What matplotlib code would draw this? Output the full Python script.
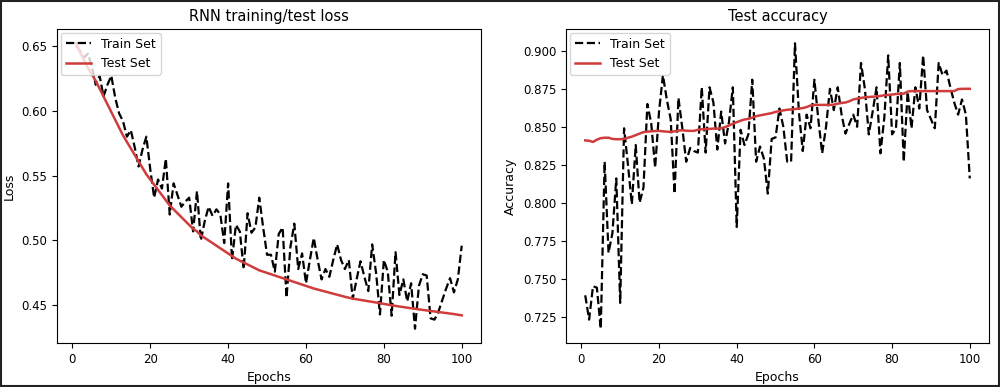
import matplotlib
matplotlib.use("Agg")
import matplotlib.pyplot as plt
from matplotlib.patches import Rectangle

epochs = list(range(1, 101))

train_loss = [
    0.650, 0.646, 0.641, 0.644, 0.634, 0.620, 0.627, 0.611, 0.620, 0.627,
    0.610, 0.598, 0.592, 0.580, 0.585, 0.572, 0.557, 0.570, 0.580, 0.555,
    0.533, 0.547, 0.540, 0.563, 0.520, 0.544, 0.535, 0.526, 0.530, 0.533,
    0.507, 0.538, 0.500, 0.515, 0.526, 0.519, 0.524, 0.520, 0.498, 0.544,
    0.485, 0.512, 0.507, 0.478, 0.521, 0.506, 0.510, 0.533, 0.510, 0.489,
    0.489, 0.476, 0.505, 0.510, 0.456, 0.495, 0.513, 0.478, 0.490, 0.467,
    0.485, 0.502, 0.485, 0.470, 0.478, 0.472, 0.485, 0.497, 0.485, 0.478,
    0.485, 0.455, 0.470, 0.484, 0.472, 0.461, 0.497, 0.475, 0.443, 0.485,
    0.476, 0.442, 0.491, 0.458, 0.470, 0.453, 0.467, 0.432, 0.465, 0.474,
    0.473, 0.440, 0.439, 0.445, 0.454, 0.463, 0.471, 0.460, 0.470, 0.496,
]

test_loss = [
    0.652, 0.645, 0.639, 0.633, 0.628, 0.623, 0.617, 0.611, 0.605, 0.599,
    0.593, 0.587, 0.581, 0.576, 0.571, 0.566, 0.561, 0.556, 0.551, 0.547,
    0.543, 0.539, 0.535, 0.531, 0.527, 0.524, 0.521, 0.518, 0.515, 0.512,
    0.509, 0.507, 0.504, 0.502, 0.500, 0.498, 0.496, 0.494, 0.492, 0.490,
    0.488, 0.486, 0.4845, 0.483, 0.4815, 0.480, 0.4785, 0.477, 0.476, 0.475,
    0.474, 0.473, 0.472, 0.471, 0.470, 0.469, 0.468, 0.467, 0.466, 0.465,
    0.464, 0.463, 0.4622, 0.4614, 0.4606, 0.4598, 0.459, 0.4582, 0.4574, 0.4566,
    0.4559, 0.4552, 0.4547, 0.4542, 0.4537, 0.4532, 0.4527, 0.4522, 0.4517, 0.4511,
    0.4506, 0.4501, 0.4496, 0.4491, 0.4487, 0.4482, 0.4478, 0.4474, 0.4469, 0.4465,
    0.4461, 0.4457, 0.4453, 0.4449, 0.4445, 0.4441, 0.4437, 0.4433, 0.4428, 0.4423,
]

train_acc = [
    0.739, 0.723, 0.745, 0.744, 0.717, 0.827, 0.767, 0.780, 0.816, 0.734,
    0.849, 0.825, 0.799, 0.838, 0.800, 0.810, 0.865, 0.852, 0.823, 0.860,
    0.884, 0.868, 0.855, 0.806, 0.869, 0.849, 0.827, 0.836, 0.834, 0.833,
    0.876, 0.833, 0.876, 0.866, 0.835, 0.860, 0.839, 0.853, 0.876, 0.784,
    0.848, 0.838, 0.845, 0.881, 0.827, 0.837, 0.829, 0.806, 0.842, 0.843,
    0.862, 0.850, 0.827, 0.827, 0.905, 0.860, 0.834, 0.858, 0.849, 0.881,
    0.855, 0.8325, 0.850, 0.875, 0.861, 0.876, 0.858, 0.8455, 0.852, 0.858,
    0.850, 0.892, 0.875, 0.845, 0.860, 0.876, 0.8325, 0.856, 0.897, 0.845,
    0.849, 0.892, 0.827, 0.873, 0.849, 0.876, 0.862, 0.897, 0.861, 0.855,
    0.849, 0.892, 0.884, 0.887, 0.876, 0.866, 0.858, 0.868, 0.858, 0.816,
]

test_acc = [
    0.8410, 0.8408, 0.8400, 0.8415, 0.8425, 0.8428, 0.8428, 0.8420, 0.8418, 0.8418,
    0.8420, 0.8428, 0.8435, 0.8445, 0.8455, 0.8465, 0.8468, 0.8470, 0.8472, 0.8473,
    0.8470, 0.8468, 0.8466, 0.8470, 0.8475, 0.8477, 0.8474, 0.8473, 0.8473, 0.8480,
    0.8484, 0.8484, 0.8486, 0.8488, 0.8488, 0.8490, 0.8498, 0.8508, 0.8520, 0.8530,
    0.8540, 0.8548, 0.8552, 0.8560, 0.8570, 0.8575, 0.8580, 0.8585, 0.8590, 0.8598,
    0.8603, 0.8608, 0.8612, 0.8614, 0.8617, 0.8620, 0.8623, 0.8630, 0.8640, 0.8644,
    0.8644, 0.8644, 0.8644, 0.8644, 0.8646, 0.8652, 0.8657, 0.8660, 0.8668, 0.8680,
    0.8685, 0.8690, 0.8694, 0.8696, 0.8698, 0.8700, 0.8703, 0.8708, 0.8710, 0.8712,
    0.8716, 0.8716, 0.8718, 0.8732, 0.8735, 0.8735, 0.8735, 0.8735, 0.8735, 0.8735,
    0.8735, 0.8735, 0.8735, 0.8735, 0.8735, 0.8735, 0.8748, 0.8750, 0.8750, 0.8750,
]

red = "#d03c3c"

fig = plt.figure(figsize=(10, 3.87), dpi=100)
ax1 = fig.add_axes([0.057, 0.1137, 0.424, 0.8114])
ax2 = fig.add_axes([0.566, 0.1137, 0.423, 0.8114])

ax1.plot(epochs, train_loss, "k--", lw=1.6, label="Train Set")
ax1.plot(epochs, test_loss, color=red, lw=1.8, label="Test Set")
ax1.set_title("RNN training/test loss", fontsize=10.5)
ax1.set_xlabel("Epochs", fontsize=9)
ax1.set_ylabel("Loss", fontsize=9)
ax1.legend(loc="upper left", fontsize=9, borderaxespad=0.3)

ax2.plot(epochs, train_acc, "k--", lw=1.6, label="Train Set")
ax2.plot(epochs, test_acc, color=red, lw=1.8, label="Test Set")
ax2.set_title("Test accuracy", fontsize=10.5)
ax2.set_xlabel("Epochs", fontsize=9)
ax2.set_ylabel("Accuracy", fontsize=9)
ax2.legend(loc="upper left", fontsize=9, borderaxespad=0.3)

for ax in (ax1, ax2):
    ax.tick_params(labelsize=8.5)

# thin frame around the whole picture
fig.patches.append(Rectangle((0.001, 0.002), 0.998, 0.996, transform=fig.transFigure,
                             fill=False, edgecolor="#222222", lw=1.5))

fig.savefig("out.png", dpi=100)
